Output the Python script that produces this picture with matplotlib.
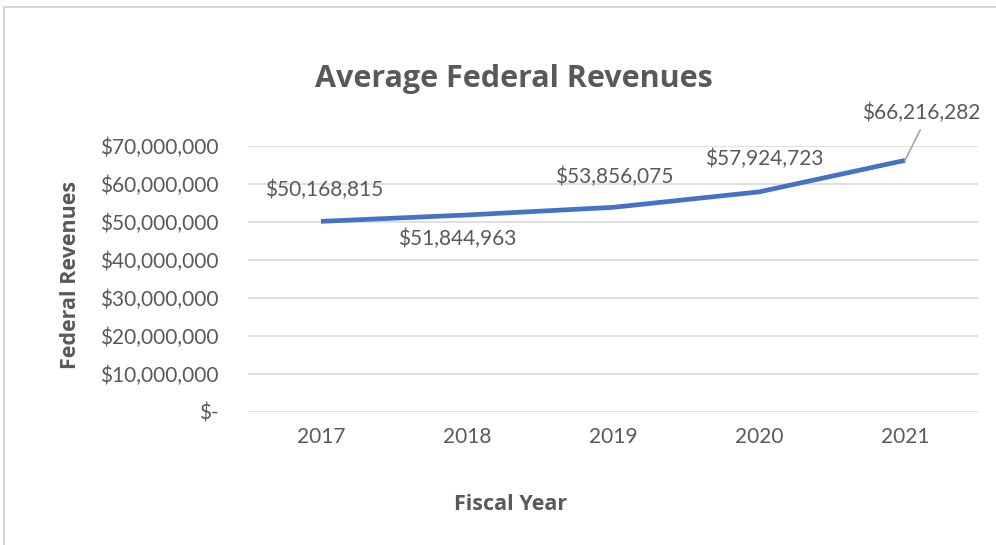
import matplotlib.pyplot as plt
from matplotlib.lines import Line2D

# Average federal revenue per fiscal year
years = ['2017', '2018', '2019', '2020', '2021']
revenues = [50168815, 51844963, 53856075, 57924723, 66216282]
# where each value label sits relative to its point (points)
label_offsets = [(2, 23), (-7, -17), (1, 22), (4, 24), (12, 34)]

TEXT = '#595959'
BLUE = '#4472C4'
GRID = '#D9D9D9'
plt.rcParams['font.family'] = ['Lato', 'DejaVu Sans']
BOLD_FONT = ['Open Sans', 'DejaVu Sans']

fig = plt.figure(figsize=(9.96, 5.45), dpi=100)
ax = fig.add_axes([248 / 996, 1 - 412 / 545, 730 / 996, 266 / 545])

x = range(len(years))
ax.plot(x, revenues, color=BLUE, linewidth=3.4, solid_capstyle='butt', zorder=3)

ax.set_xlim(-0.5, len(years) - 0.5)
ax.set_ylim(0, 70000000)
ax.set_yticks(range(0, 70000001, 10000000))
ax.set_yticklabels(['$-' if v == 0 else '${:,.0f}'.format(v) for v in range(0, 70000001, 10000000)])
ax.set_xticks(list(x))
ax.set_xticklabels(years)
ax.grid(axis='y', color=GRID, linewidth=1.2)
ax.set_axisbelow(True)
for s in ax.spines.values():
    s.set_visible(False)
ax.tick_params(length=0, colors=TEXT, labelsize=15)
ax.tick_params(axis='y', pad=21)
ax.tick_params(axis='x', pad=11)

for i, (v, off) in enumerate(zip(revenues, label_offsets)):
    ax.annotate('${:,.0f}'.format(v), (i, v), xytext=off, textcoords='offset points',
                ha='center', va='center', fontsize=15, color=TEXT)
# leader line for the last label
ax.annotate('', (len(years) - 1, revenues[-1]), xytext=(11, 22), textcoords='offset points',
            arrowprops=dict(arrowstyle='-', color='#A6A6A6', linewidth=1.2, shrinkA=0, shrinkB=0))

fig.text(514 / 996, 1 - 79 / 545, 'Average Federal Revenues', ha='center', va='center',
         fontsize=22, fontweight='bold', color=TEXT, family=BOLD_FONT)
fig.text(71 / 996, 1 - 275 / 545, 'Federal Revenues', ha='center', va='center',
         rotation=90, fontsize=15.5, fontweight='bold', color=TEXT, family=BOLD_FONT)
fig.text(511 / 996, 1 - 505 / 545, 'Fiscal Year', ha='center', va='center',
         fontsize=15.5, fontweight='bold', color=TEXT, family=BOLD_FONT)

# chart frame (top and left edges)
fig.add_artist(Line2D([4 / 996, 4 / 996], [0, 1 - 7 / 545], transform=fig.transFigure,
                      color='#D0D0D0', linewidth=1.2))
fig.add_artist(Line2D([4 / 996, 1], [1 - 7 / 545, 1 - 7 / 545], transform=fig.transFigure,
                      color='#D0D0D0', linewidth=1.2))

fig.savefig('out.png', dpi=100)
